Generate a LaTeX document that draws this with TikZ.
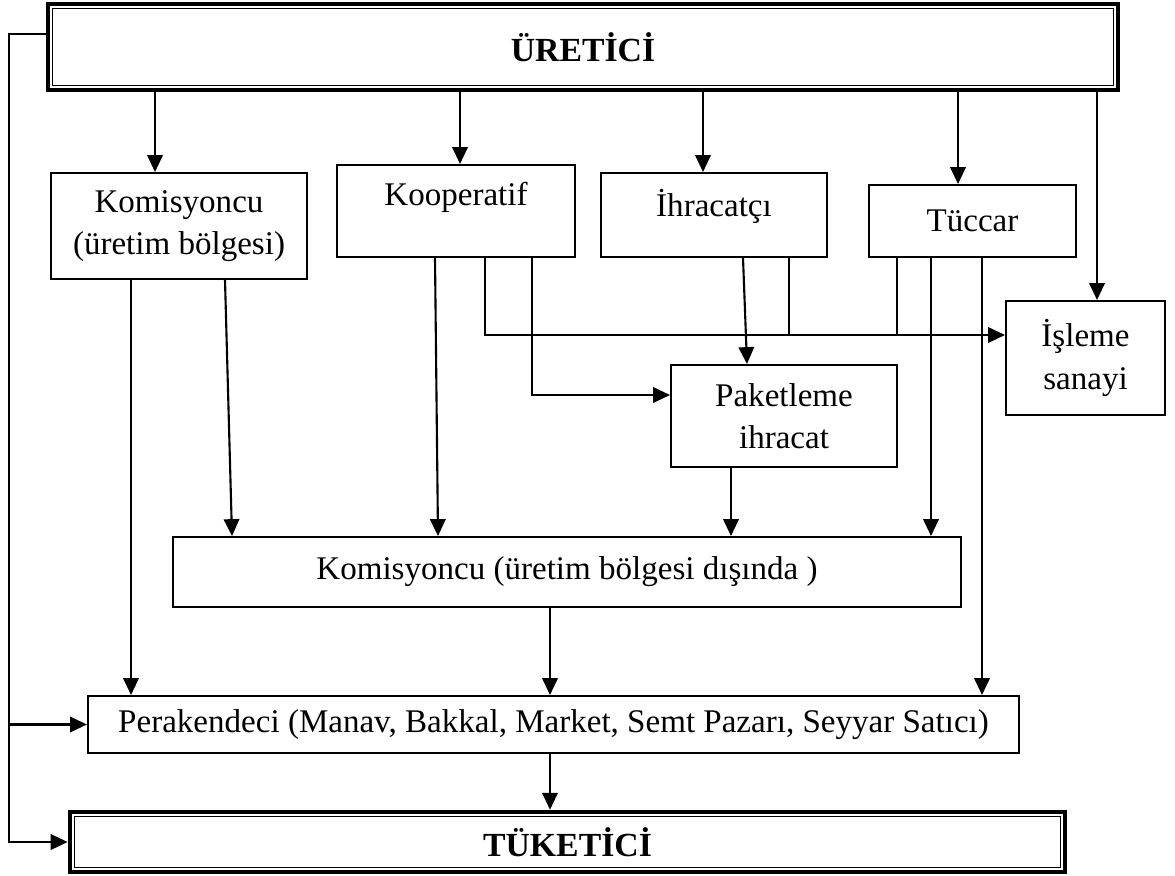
\documentclass[tikz,border=0pt]{standalone}
\usepackage{fontspec}
\setmainfont{Liberation Serif}
\usetikzlibrary{arrows.meta}
\tikzset{
  kutu/.style={draw, line width=1.4pt, align=center, inner sep=0pt, font=\fontsize{23.5}{30}\selectfont},
  cift/.style={draw, line width=3.2pt, inner sep=0pt, font=\fontsize{24}{30}\selectfont\bfseries,
    path picture={\draw[line width=0.9pt] ([xshift=3.4pt,yshift=-3.4pt]path picture bounding box.north west) rectangle ([xshift=-3.4pt,yshift=3.4pt]path picture bounding box.south east);}},
  ok/.style={-{Triangle[length=12pt,width=11pt]}, line width=1.5pt},
  hat/.style={line width=1.3pt}
}
\begin{document}
\begin{tikzpicture}[x=0.025cm, y=-0.025cm, line join=miter]
\useasboundingbox (0,0) rectangle (1175,875);
\node[cift, minimum width=26.75cm, minimum height=2.15cm] (uret) at (583,47) {ÜRETİCİ};
\node[kutu, minimum width=6.4cm, minimum height=2.65cm] (kom1) at (179,226) {Komisyoncu\\(üretim bölgesi)};
\node[kutu, minimum width=5.95cm, minimum height=2.3cm, text depth=24pt] (koop) at (456,211) {Kooperatif};
\node[kutu, minimum width=5.65cm, minimum height=2.1cm, text depth=17pt] (ihr) at (714,215) {İhracatçı};
\node[kutu, minimum width=5.175cm, minimum height=1.8cm] (tuc) at (972.5,221) {Tüccar};
\node[kutu, minimum width=3.975cm, minimum height=2.85cm] (isl) at (1085.5,358) {İşleme\\sanayi};
\node[kutu, minimum width=5.65cm, minimum height=2.55cm] (pak) at (784,416) {Paketleme\\ihracat};
\node[kutu, minimum width=19.7cm, minimum height=1.75cm] (kom2) at (567,572) {Komisyoncu (üretim bölgesi dışında )};
\node[kutu, minimum width=23.275cm, minimum height=1.425cm] (per) at (553.5,724.5) {Perakendeci (Manav, Bakkal, Market, Semt Pazarı, Seyyar Satıcı)};
\node[cift, minimum width=24.875cm, minimum height=1.5cm] (tuk) at (567.5,842) {TÜKETİCİ};
\coordinate (kenar) at (9,34);
\foreach \x/\b in {155/kom1,460/koop,703/ihr,958/tuc,1097/isl}
  \draw[ok] (\x,0 |- uret.south) -- (\x,0 |- \b.north);
\draw[ok] (uret.west |- kenar) -- (kenar) -- (kenar |- tuk.west) -- (tuk.west);
\draw[ok] (kenar |- per.west) -- (per.west);
\draw[ok] (131,0 |- kom1.south) -- (131,0 |- per.north);
\draw[ok] (225,0 |- kom1.south) -- (232,0 |- kom2.north);
\draw[ok] (435,0 |- koop.south) -- (438,0 |- kom2.north);
\draw[ok] (485,0 |- koop.south) -- (485,335) -- (isl.west |- 0,335);
\draw[ok] (532,0 |- koop.south) -- (532,395) -- (pak.west |- 0,395);
\draw[ok] (743,0 |- ihr.south) -- (747,0 |- pak.north);
\draw[hat] (789,0 |- ihr.south) -- (789,335);
\draw[hat] (897,0 |- tuc.south) -- (897,335);
\draw[ok] (931,0 |- tuc.south) -- (931,0 |- kom2.north);
\draw[ok] (982,0 |- tuc.south) -- (982,0 |- per.north);
\draw[ok] (731,0 |- pak.south) -- (731,0 |- kom2.north);
\draw[ok] (550,0 |- kom2.south) -- (550,0 |- per.north);
\draw[ok] (550,0 |- per.south) -- (550,0 |- tuk.north);
\end{tikzpicture}
\end{document}
